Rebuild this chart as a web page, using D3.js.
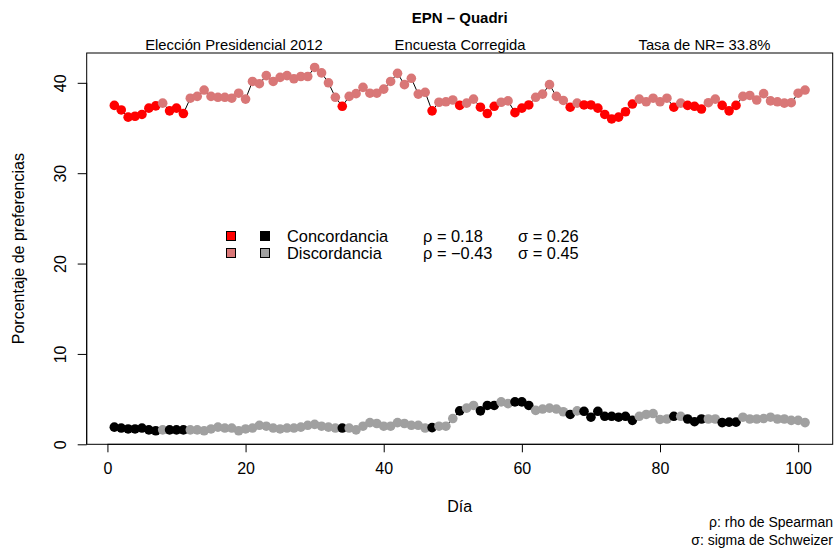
<!DOCTYPE html>
<html>
<head>
<meta charset="utf-8">
<script src="https://cdn.jsdelivr.net/npm/d3@7"></script>
<style>
  html, body { margin: 0; padding: 0; background: #fff; }
  svg text { font-family: "Liberation Sans", Arial, Helvetica, sans-serif; fill: #000; }
</style>
</head>
<body>
<svg id="chart" width="835" height="550"></svg>
<script>
// Daily tracking poll, days 1..101
const days = d3.range(1, 102);

// EPN share (%)
const epn = [
  37.5, 37.0, 36.2, 36.3, 36.5, 37.2, 37.45, 37.75, 36.9, 37.2,
  36.6, 38.3, 38.5, 39.2, 38.5, 38.4, 38.4, 38.3, 38.85, 38.2,
  40.15, 39.9, 40.8, 40.15, 40.6, 40.8, 40.45, 40.7, 40.7, 41.7,
  41.1, 40.0, 38.4, 37.4, 38.5, 38.8, 39.5, 38.85, 38.85, 39.3,
  40.15, 41.05, 39.8, 40.5, 38.75, 38.95, 36.9, 37.85, 37.9, 38.1,
  37.5, 37.75, 38.2, 37.3, 36.6, 37.4, 37.85, 38.0, 36.7, 37.2,
  37.55, 38.4, 38.75, 39.8, 38.5, 38.05, 37.3, 37.75, 37.55, 37.55,
  37.2, 36.5, 36.0, 36.2, 36.8, 37.65, 38.2, 37.9, 38.3, 37.9,
  38.3, 37.3, 37.75, 37.5, 37.4, 37.1, 37.8, 38.2, 37.5, 36.9,
  37.5, 38.5, 38.6, 38.1, 38.8, 38.0, 37.9, 37.75, 37.8, 38.85,
  39.2
];

// Quadri share (%)
const quadri = [
  1.9, 1.8, 1.7, 1.7, 1.8, 1.6, 1.5, 1.6, 1.6, 1.6,
  1.6, 1.6, 1.6, 1.5, 1.7, 1.9, 1.8, 1.8, 1.5, 1.7,
  1.8, 2.1, 2.0, 1.8, 1.7, 1.8, 1.8, 1.9, 2.1, 2.2,
  2.0, 1.9, 1.8, 1.8, 1.8, 1.6, 2.0, 2.4, 2.3, 2.0,
  2.0, 2.4, 2.3, 2.1, 2.1, 1.8, 1.85, 2.0, 2.0, 2.85,
  3.7, 4.0, 4.3, 3.7, 4.3, 4.3, 4.7, 4.5, 4.7, 4.7,
  4.3, 3.75, 3.9, 4.0, 3.9, 3.6, 3.3, 3.7, 3.65, 3.0,
  3.65, 3.1, 3.1, 3.0, 3.1, 2.65, 3.1, 3.3, 3.4, 2.75,
  2.8, 3.1, 3.1, 2.8, 2.5, 2.8, 2.8, 2.8, 2.4, 2.45,
  2.45, 3.0, 2.8, 2.8, 2.85, 3.0, 2.8, 2.8, 2.65, 2.65,
  2.4
];

// 1 = concordant day, 0 = discordant day
const concord = [
  1, 1, 1, 1, 1, 1, 1, 0, 1, 1,
  1, 0, 0, 0, 0, 0, 0, 0, 0, 0,
  0, 0, 0, 0, 0, 0, 0, 0, 0, 0,
  0, 0, 0, 1, 0, 0, 0, 0, 0, 0,
  0, 0, 0, 0, 0, 0, 1, 0, 0, 0,
  1, 0, 0, 1, 1, 1, 0, 0, 1, 1,
  1, 0, 0, 0, 0, 0, 1, 0, 1, 1,
  1, 1, 1, 1, 1, 1, 0, 0, 0, 0,
  0, 1, 0, 1, 1, 1, 0, 0, 1, 1,
  1, 0, 0, 0, 0, 0, 0, 0, 0, 0,
  0
];

const xTicks = [0, 20, 40, 60, 80, 100];
const yTicks = [0, 10, 20, 30, 40];

const legendLabels = ["Concordancia", "Discordancia"];
const rhoLabels = ["\u03C1 = 0.18", "\u03C1 = \u22120.43"];
const sigmaLabels = ["\u03C3 = 0.26", "\u03C3 = 0.45"];

const epnColors = ["#D97777", "#FF0000"];     // [discordant, concordant]
const quadriColors = ["#A0A0A0", "#000000"];

const box = { left: 86.7, right: 832.7, top: 53, bottom: 444.3 };

const x = d3.scaleLinear().domain([-3, 105]).range([box.left, box.right]);
const y = d3.scaleLinear().domain([0, 43.3]).range([box.bottom, box.top]);

const svg = d3.select("#chart");

// connecting lines
const line = d3.line().x((d, i) => x(days[i])).y(d => y(d));
[epn, quadri].forEach(series => {
  svg.append("path")
    .datum(series)
    .attr("d", line)
    .attr("fill", "none")
    .attr("stroke", "#000")
    .attr("stroke-width", 1);
});

// points
const drawPoints = (series, palette) => {
  svg.append("g")
    .selectAll("circle")
    .data(series)
    .join("circle")
    .attr("cx", (d, i) => x(days[i]))
    .attr("cy", d => y(d))
    .attr("r", 4.8)
    .attr("fill", (d, i) => palette[concord[i]]);
};
drawPoints(epn, epnColors);
drawPoints(quadri, quadriColors);

// plot frame
svg.append("rect")
  .attr("x", box.left).attr("y", box.top)
  .attr("width", box.right - box.left).attr("height", box.bottom - box.top)
  .attr("fill", "none").attr("stroke", "#000").attr("stroke-width", 1);

// x axis
const xAxis = svg.append("g")
  .attr("transform", `translate(0,${box.bottom})`)
  .call(d3.axisBottom(x).tickValues(xTicks).tickSize(8).tickPadding(10).tickSizeOuter(0));
xAxis.select(".domain").attr("d", `M${x(0)},0H${x(100)}`);
xAxis.selectAll("text").attr("font-size", 16).attr("font-family", "Liberation Sans, Arial, sans-serif");

// y axis with vertical labels
const yAxis = svg.append("g")
  .attr("transform", `translate(${box.left},0)`)
  .call(d3.axisLeft(y).tickValues(yTicks).tickSize(9).tickFormat(d3.format("d")).tickSizeOuter(0));
yAxis.select(".domain").attr("d", `M0,${y(0)}V${y(40)}`);
yAxis.selectAll(".tick text")
  .attr("font-size", 16)
  .attr("font-family", "Liberation Sans, Arial, sans-serif")
  .attr("x", null).attr("dy", null)
  .attr("text-anchor", "middle")
  .attr("transform", "translate(-21,0) rotate(-90)");

// titles
svg.append("text").attr("x", 459.7).attr("y", 23)
  .attr("text-anchor", "middle").attr("font-size", 15).attr("font-weight", "bold")
  .text("EPN \u2013 Quadri");

const subs = [["Elecci\u00F3n Presidencial 2012", 234], ["Encuesta Corregida", 460], ["Tasa de NR= 33.8%", 704.5]];
subs.forEach(([t, cx]) => {
  svg.append("text").attr("x", cx).attr("y", 50)
    .attr("text-anchor", "middle").attr("font-size", 14.8).text(t);
});

svg.append("text").attr("x", 459.7).attr("y", 512)
  .attr("text-anchor", "middle").attr("font-size", 16).text("D\u00EDa");

svg.append("text")
  .attr("transform", `translate(24,${(box.top + box.bottom) / 2}) rotate(-90)`)
  .attr("text-anchor", "middle").attr("font-size", 16)
  .text("Porcentaje de preferencias");

// legend
const legRows = [236, 253];
legRows.forEach((ly, r) => {
  const conc = r === 0 ? 1 : 0;
  [[231, epnColors[conc]], [265, quadriColors[conc]]].forEach(([lx, c]) => {
    svg.append("rect").attr("x", lx - 4.5).attr("y", ly - 4.5)
      .attr("width", 9).attr("height", 9)
      .attr("fill", c).attr("stroke", "#000").attr("stroke-width", 1);
  });
  svg.append("text").attr("x", 287).attr("y", ly + 6).attr("font-size", 16.4).text(legendLabels[r]);
  svg.append("text").attr("x", 423).attr("y", ly + 6).attr("font-size", 16.4).text(rhoLabels[r]);
  svg.append("text").attr("x", 518).attr("y", ly + 6).attr("font-size", 16.4).text(sigmaLabels[r]);
});

// footnotes
svg.append("text").attr("x", 833).attr("y", 527)
  .attr("text-anchor", "end").attr("font-size", 14).text("\u03C1: rho de Spearman");
svg.append("text").attr("x", 833).attr("y", 545)
  .attr("text-anchor", "end").attr("font-size", 14).text("\u03C3: sigma de Schweizer");
</script>
</body>
</html>
